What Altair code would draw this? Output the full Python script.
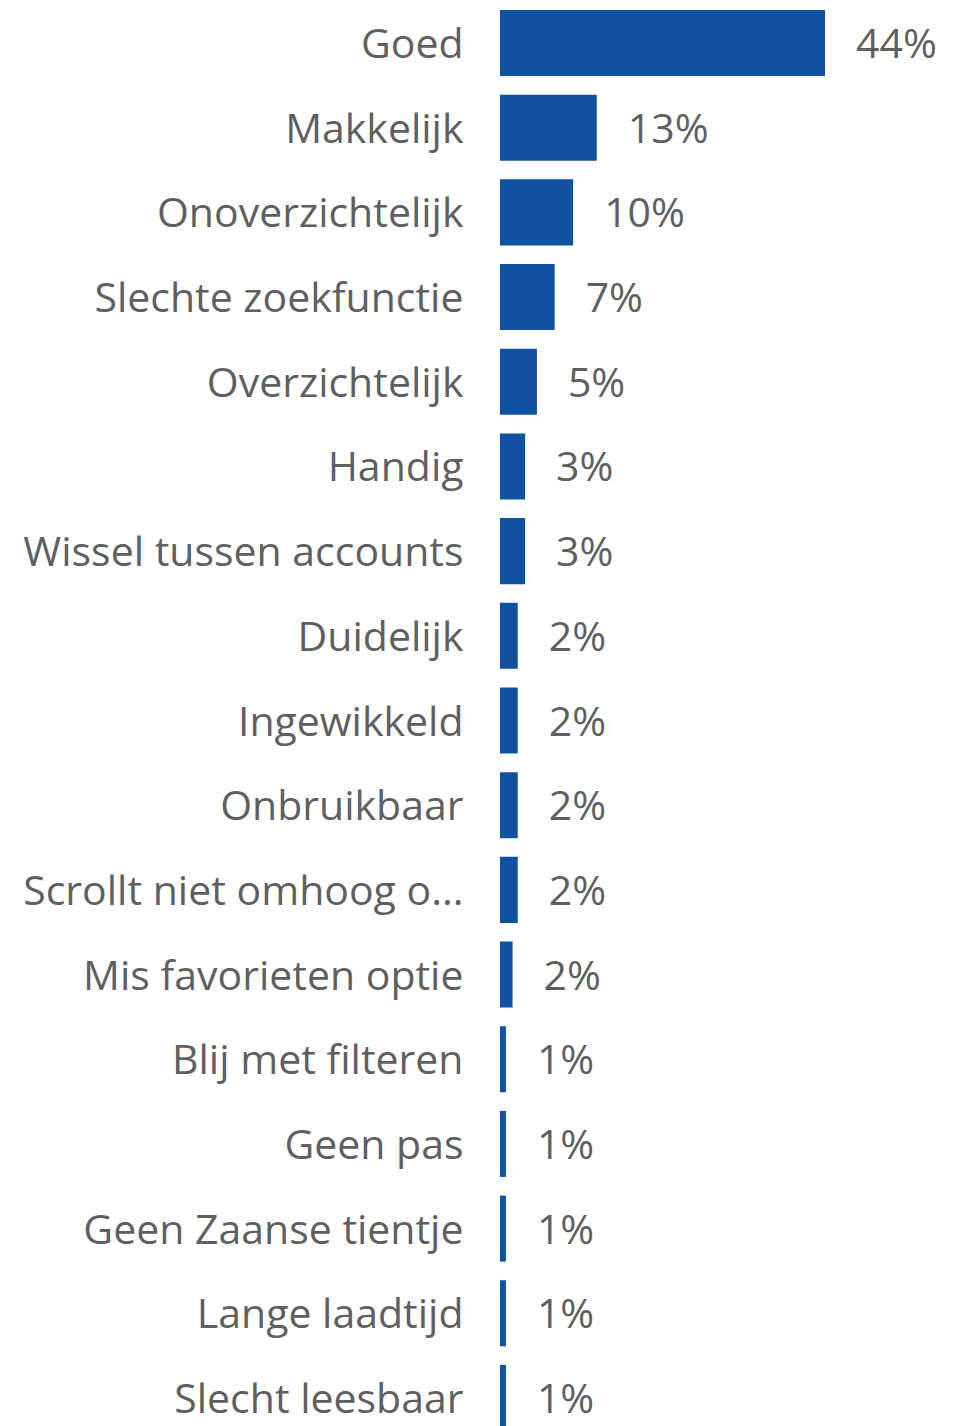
import altair as alt
import pandas as pd

categories = [
    "Goed", "Makkelijk", "Onoverzichtelijk", "Slechte zoekfunctie",
    "Overzichtelijk", "Handig", "Wissel tussen accounts", "Duidelijk",
    "Ingewikkeld", "Onbruikbaar", "Scrollt niet omhoog o...",
    "Mis favorieten optie", "Blij met filteren", "Geen pas",
    "Geen Zaanse tientje", "Lange laadtijd", "Slecht leesbaar",
]
values = [44.0, 13.1, 9.9, 7.4, 5.0, 3.4, 3.4, 2.4, 2.4, 2.4, 2.4, 1.7,
          0.8, 0.8, 0.8, 0.8, 0.8]

df = pd.DataFrame({"cat": categories, "val": values})

FONT = "Open Sans"
TXT = "#5f5f5f"
BAR = "#1052a2"
FS = 41

y = alt.Y("cat:N", sort=categories,
          scale=alt.Scale(paddingInner=0.22, paddingOuter=0.0),
          axis=alt.Axis(title=None, domain=False, ticks=False,
                        labelFontSize=FS, labelFont=FONT, labelColor=TXT,
                        labelPadding=37, labelLimit=600, labelOffset=3))
x = alt.X("val:Q", scale=alt.Scale(domain=[0, 44], nice=False, zero=True),
          axis=None)

bars = alt.Chart(df).mark_bar(color=BAR).encode(y=y, x=x)
pct = alt.Chart(df).transform_calculate(
    lab="format(datum.val, '.0f') + '%'"
).mark_text(align="left", baseline="middle", dx=31, dy=3,
            font=FONT, fontSize=FS, color=TXT).encode(
    y=y, x=x, text="lab:N")

chart = (bars + pct).properties(
    width=325, height=1421,
    autosize=alt.AutoSizeParams(type="none"),
    padding={"left": 492, "top": 2, "right": 131, "bottom": 0},
).configure_view(stroke=None)

chart.save("out.html", embed_options={"renderer": "svg", "actions": False})
